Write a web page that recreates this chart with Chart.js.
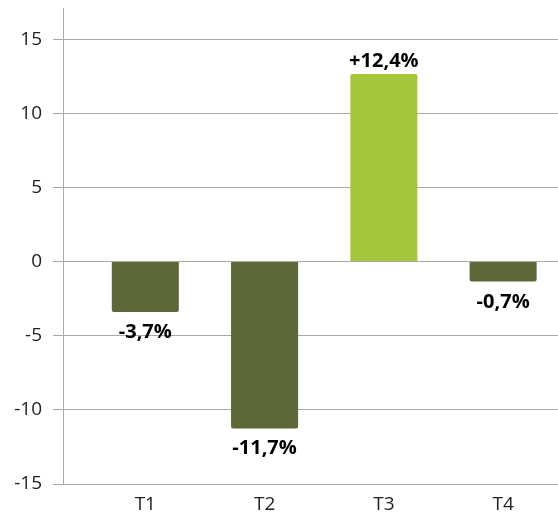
<!DOCTYPE html>
<html>
<head>
<meta charset="utf-8">
<script src="https://cdn.jsdelivr.net/npm/chart.js@4"></script>
<style>
  body { margin: 0; background: #fff; }
</style>
</head>
<body>
<canvas id="quarterChart" width="558" height="515"></canvas>
<script>
// quarters and values
var quarters = ['T1', 'T2', 'T3', 'T4'];
var values = [-3.4, -11.25, 12.65, -1.35];
// labels printed next to the bars
var valueLabels = ['-3,7%', '-11,7%', '+12,4%', '-0,7%'];
var yTicks = [-15, -10, -5, 0, 5, 10, 15];

var barColors = values.map(function (v) {
    return v >= 0 ? '#a5c63b' : '#5c6837';
});

// x positions are quarter indexes on a linear axis (the plot is cropped on the right)
var points = values.map(function (v, i) {
    return { x: i, y: v };
});

// draw the percentage text above/below each bar
var valueLabelPlugin = {
    id: 'valueLabels',
    afterDatasetsDraw: function (chart) {
        var ctx = chart.ctx;
        var meta = chart.getDatasetMeta(0);
        ctx.save();
        ctx.font = 'bold 20px "Open Sans"';
        ctx.fillStyle = '#000';
        ctx.textAlign = 'center';
        ctx.textBaseline = 'alphabetic';
        meta.data.forEach(function (bar, i) {
            if (values[i] >= 0) {
                ctx.fillText(valueLabels[i], bar.x, bar.y - 7);
            } else {
                ctx.fillText(valueLabels[i], bar.x, bar.y + 26);
            }
        });
        ctx.restore();
    }
};

var canvas = document.getElementById('quarterChart');
var ctx = canvas.getContext('2d');
window.quarterChartInstance = new Chart(ctx, {
    type: 'bar',
    data: {
        datasets: [{
            data: points,
            backgroundColor: barColors,
            borderRadius: 2,
            borderSkipped: 'start',
            categoryPercentage: 0.562,
            barPercentage: 1
        }]
    },
    options: {
        responsive: false,
        animation: false,
        layout: { padding: { top: 8, right: 0, left: 0, bottom: 0 } },
        plugins: {
            legend: { display: false },
            tooltip: { enabled: false }
        },
        scales: {
            x: {
                type: 'linear',
                offset: false,
                min: -0.69,
                max: 3.46,
                afterBuildTicks: function (scale) {
                    scale.ticks = quarters.map(function (q, i) { return { value: i }; });
                },
                afterFit: function (scale) {
                    scale.height = 31;
                    scale.paddingLeft = 0;
                    scale.paddingRight = 0;
                },
                grid: { display: false, drawTicks: false },
                border: { display: false },
                ticks: {
                    color: '#222',
                    font: { family: '"Open Sans"', size: 19 },
                    padding: 9,
                    callback: function (value) { return quarters[value]; }
                }
            },
            y: {
                min: -15,
                max: 17.1,
                afterBuildTicks: function (scale) {
                    scale.ticks = yTicks.map(function (v) { return { value: v }; });
                },
                afterFit: function (scale) {
                    scale.width = 63;
                    scale.paddingTop = 0;
                    scale.paddingBottom = 0;
                },
                grid: {
                    color: '#a9a9a9',
                    lineWidth: 1,
                    tickLength: 10
                },
                border: { display: true, color: '#a9a9a9' },
                ticks: {
                    color: '#222',
                    font: { family: '"Open Sans"', size: 19 },
                    padding: 11
                }
            }
        }
    },
    plugins: [valueLabelPlugin]
});
</script>
</body>
</html>
